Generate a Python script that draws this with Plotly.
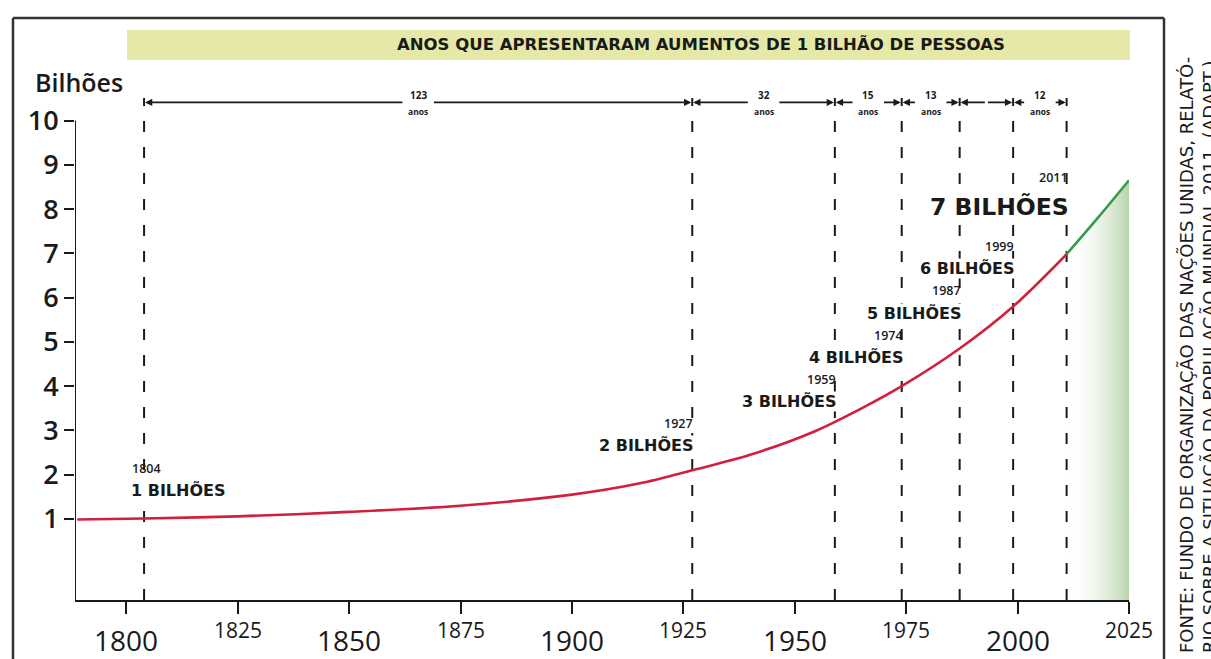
import plotly.graph_objects as go

# World population (billions) by year, with projection to 2025
hist_years = [1789, 1804, 1825, 1850, 1875, 1900, 1915, 1927, 1940, 1954, 1965, 1974, 1987, 1999, 2011]
hist_pop = [0.99, 1.01, 1.06, 1.16, 1.3, 1.55, 1.8, 2.1, 2.45, 2.96, 3.5, 4.0, 4.85, 5.8, 6.98]
proj_years = [2011, 2018, 2025]
proj_pop = [6.98, 7.8, 8.65]

# Milestones: each additional billion
milestone_years = [1804, 1927, 1959, 1974, 1987, 1999, 2011]
milestone_pop = [1, 2, 3, 4, 5, 6, 7]
milestone_labels = ["1 BILHÕES", "2 BILHÕES", "3 BILHÕES", "4 BILHÕES",
                    "5 BILHÕES", "6 BILHÕES", "7 BILHÕES"]
unlabelled_intervals = {4}

x_ticks = [1800, 1825, 1850, 1875, 1900, 1925, 1950, 1975, 2000, 2025]
y_ticks = [1, 2, 3, 4, 5, 6, 7, 8, 9, 10]

title_text = "ANOS QUE APRESENTARAM AUMENTOS DE 1 BILHÃO DE PESSOAS"
source_text = ("FONTE: FUNDO DE ORGANIZAÇÃO DAS NAÇÕES UNIDAS, RELATÓ-<br>"
               "RIO SOBRE A SITUAÇÃO DA POPULAÇÃO MUNDIAL 2011. (ADAPT.)")

X0, X1 = 1788.5, 2025
Y0, Y1 = -0.83, 11.3
ROW_Y = 10.41

# plot area in pixels (for paper-positioned decorations)
L, R, T, B = 75, 1129, 63, 600


def px(xp):
    return (xp - L) / (R - L)


def py(yp):
    return (B - yp) / (B - T)


RED = "#d21f3c"
GREEN = "#3a9a4c"
INK = "#1a1a1a"
LABEL_FONT = "DejaVu Sans"
NUM_FONT = "Open Sans"

fig = go.Figure()

# shaded projection area
fig.add_trace(go.Scatter(
    x=proj_years + proj_years[::-1],
    y=proj_pop + [Y0] * len(proj_years),
    mode="lines", line=dict(width=0), fill="toself",
    fillgradient=dict(type="horizontal",
                      colorscale=[[0, "rgba(255,255,255,0)"], [1, "rgb(184,212,170)"]]),
    hoverinfo="skip", showlegend=False,
))
fig.add_trace(go.Scatter(
    x=hist_years, y=hist_pop, mode="lines",
    line=dict(color=RED, width=2.6, shape="spline", smoothing=0.9),
    showlegend=False,
))
fig.add_trace(go.Scatter(
    x=proj_years, y=proj_pop, mode="lines",
    line=dict(color=GREEN, width=2.6, shape="spline", smoothing=0.9),
    showlegend=False,
))

shapes = []
annotations = []

# dashed milestone dividers
for yr in milestone_years:
    shapes.append(dict(type="line", xref="x", yref="y", x0=yr, x1=yr, y0=Y0, y1=ROW_Y + 0.1,
                       line=dict(color=INK, width=2, dash="11px,15px"), layer="below"))

# interval arrows between dividers
gap_years = 3.2
for i in range(len(milestone_years) - 1):
    a, b = milestone_years[i], milestone_years[i + 1]
    mid = (a + b) / 2
    labelled = i not in unlabelled_intervals
    g = gap_years if labelled else 0
    for tail, head in ((mid - g, a), (mid + g, b)):
        annotations.append(dict(
            x=head, y=ROW_Y, ax=tail, ay=ROW_Y, xref="x", yref="y", axref="x", ayref="y",
            text="", showarrow=True, arrowhead=2, arrowsize=0.9, arrowwidth=1.6,
            arrowcolor=INK, standoff=1, startstandoff=0,
        ))
    if labelled:
        annotations.append(dict(x=mid, y=ROW_Y + 0.17, xref="x", yref="y", text=f"<b>{b - a}</b>",
                                showarrow=False, font=dict(family=NUM_FONT, size=10, color=INK)))
        annotations.append(dict(x=mid, y=ROW_Y - 0.2, xref="x", yref="y", text="<b>anos</b>",
                                showarrow=False, font=dict(family=NUM_FONT, size=8.5, color=INK)))

# milestone labels
for k, (yr, pop, lab) in enumerate(zip(milestone_years, milestone_pop, milestone_labels)):
    big = k == len(milestone_years) - 1
    if k == 0:
        anchor, xs = "left", -14
    else:
        anchor, xs = "right", 3
    y_lab = pop + (1.04 if big else 0.65)
    annotations.append(dict(x=yr, y=y_lab, xref="x", yref="y", xshift=xs, text=f"<b>{lab}</b>",
                            xanchor=anchor, yanchor="middle", showarrow=False,
                            bgcolor="white", borderpad=0,
                            font=dict(family=LABEL_FONT, size=23.5 if big else 16, color=INK)))
    annotations.append(dict(x=yr, y=y_lab + (0.67 if big else 0.5), xref="x", yref="y",
                            xshift=xs, text=str(yr), xanchor=anchor, yanchor="middle",
                            showarrow=False,
                            font=dict(family=NUM_FONT, size=12.5, color=INK, weight=600)))

# x tick labels: half-century years large, quarter-century years smaller
for yr in x_ticks:
    major = yr % 50 == 0
    annotations.append(dict(x=yr, y=py(640 if major else 630), xref="x", yref="paper",
                            text=str(yr), xanchor="center", yanchor="middle", showarrow=False,
                            font=dict(family=NUM_FONT, size=28 if major else 21, color=INK,
                                      weight=500)))

# y axis line stops at the top tick
shapes.append(dict(type="line", xref="x", yref="y", x0=X0, x1=X0, y0=Y0, y1=10,
                   line=dict(color=INK, width=2)))

# outer frame (open at the bottom)
for x0, y0, x1, y1 in ((13, 665, 13, 18), (13, 18, 1164, 18), (1164, 18, 1164, 665)):
    shapes.append(dict(type="line", xref="paper", yref="paper",
                       x0=px(x0), x1=px(x1), y0=py(y0), y1=py(y1),
                       line=dict(color="#333333", width=2.5)))

# title banner
shapes.append(dict(type="rect", xref="paper", yref="paper",
                   x0=px(127), x1=px(1130), y0=py(60), y1=py(30),
                   fillcolor="#e5e8a6", line=dict(width=0), layer="below"))
annotations.append(dict(x=px(701), y=py(45), xref="paper", yref="paper",
                        xanchor="center", yanchor="middle",
                        text=f"<b>{title_text}</b>", showarrow=False,
                        font=dict(family=LABEL_FONT, size=16.5, color=INK)))

annotations.append(dict(x=px(33), y=py(82), xref="paper", yref="paper",
                        text="Bilhões", showarrow=False, xanchor="left", yanchor="middle",
                        font=dict(family=NUM_FONT, size=25, color=INK, weight=600)))

# source note, rotated along the right edge
annotations.append(dict(x=px(1174), y=py(655), xref="paper", yref="paper",
                        text=source_text, textangle=-90, showarrow=False,
                        xanchor="left", yanchor="bottom", align="left",
                        font=dict(family=LABEL_FONT, size=18, color=INK)))

fig.update_layout(
    width=1211, height=659,
    margin=dict(l=L, r=1211 - R, t=T, b=659 - B),
    paper_bgcolor="white", plot_bgcolor="white",
    shapes=shapes, annotations=annotations,
    xaxis=dict(range=[X0, X1], showgrid=False, zeroline=False, showline=True,
               linecolor=INK, linewidth=2, tickvals=x_ticks, ticks="outside",
               ticklen=12, tickwidth=2, tickcolor=INK, showticklabels=False),
    yaxis=dict(range=[Y0, Y1], showgrid=False, zeroline=False, showline=False,
               tickvals=y_ticks, ticks="outside", ticklen=10, tickwidth=2, tickcolor=INK,
               tickfont=dict(family=NUM_FONT, size=27, color=INK, weight=600)),
)

fig.write_html("out.html")
